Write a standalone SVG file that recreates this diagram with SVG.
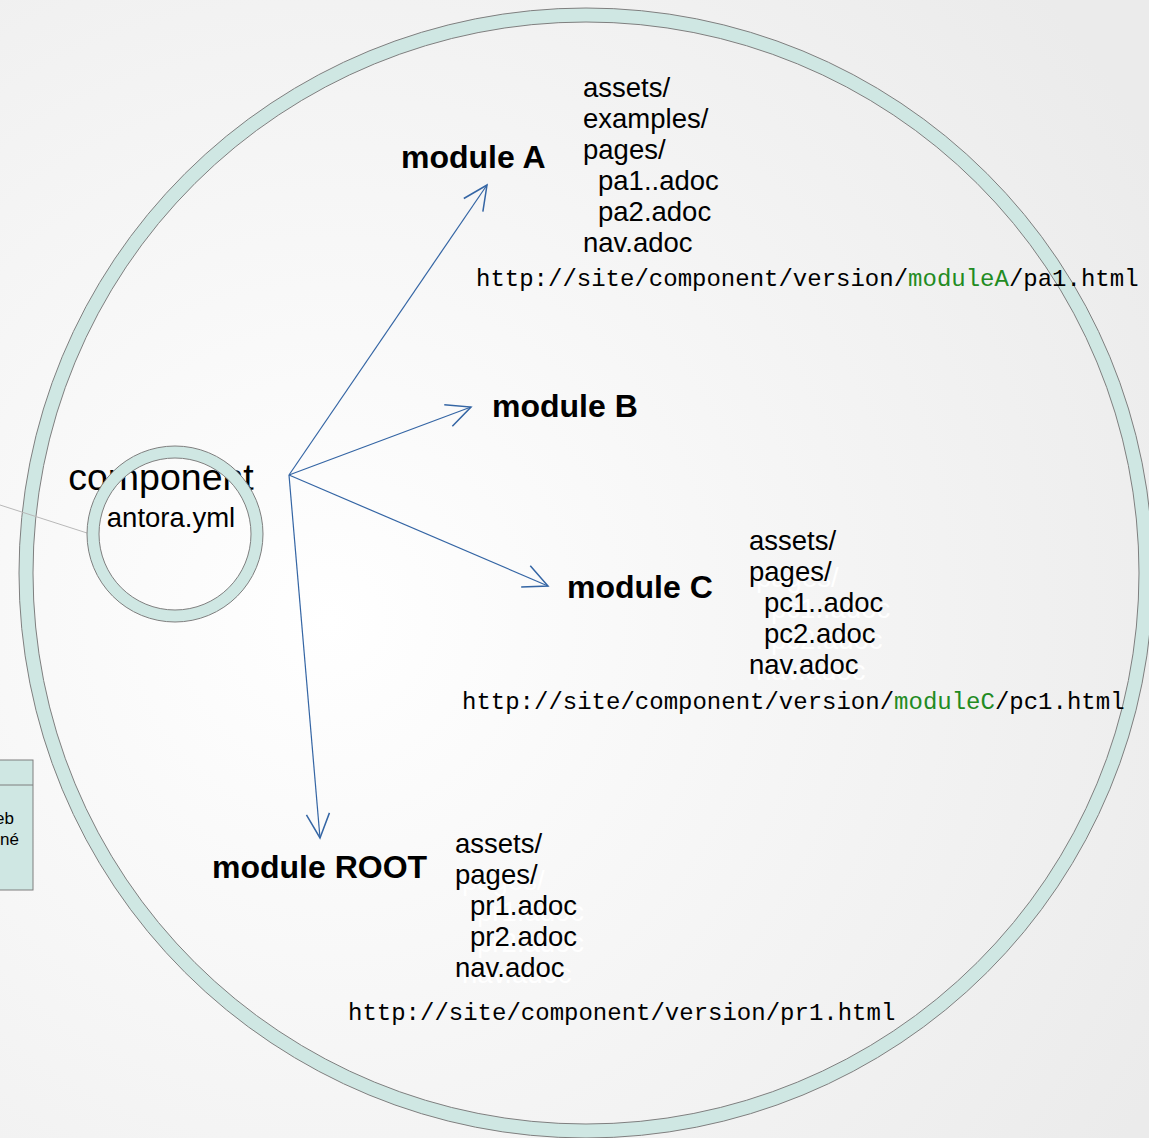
<svg xmlns="http://www.w3.org/2000/svg" width="1149" height="1138" viewBox="0 0 1149 1138">
<defs>
<radialGradient id="bg" cx="330" cy="620" r="950" gradientUnits="userSpaceOnUse">
<stop offset="0" stop-color="#ffffff"/>
<stop offset="1" stop-color="#ebebeb"/>
</radialGradient>
<marker id="arr" markerUnits="userSpaceOnUse" markerWidth="30" markerHeight="30" viewBox="-24 -12 26 24" refX="0" refY="0" orient="auto">
<path d="M-21,-10 L0,0 L-21,10" fill="none" stroke="#3465a4" stroke-width="1.3"/>
</marker>
<style>
.ring{fill:#cfe7e3;stroke:#7f7f7f;stroke-width:1;fill-rule:evenodd}
.t{font-family:"Liberation Sans",Arial,sans-serif;fill:#000}
.lst{font-size:27.5px}
.ghost{font-family:"Liberation Sans",Arial,sans-serif;font-size:27.5px;fill:#ffffff}
.mod{font-size:32px;font-weight:bold}
.url{font-family:"Liberation Mono","Courier New",monospace;font-size:24px;fill:#000}
.g{fill:#228b22}
.conn{stroke:#3465a4;stroke-width:1.2;fill:none;marker-end:url(#arr)}
</style>
</defs>
<rect width="1149" height="1138" fill="url(#bg)"/>

<g id="component-boundary">
<path class="ring" d="M19,573 a567,565 0 1,0 1134,0 a567,565 0 1,0 -1134,0 Z M33,573 a553,551 0 1,0 1106,0 a553,551 0 1,0 -1106,0 Z"/>
</g>

<g id="side-box">
<rect x="-1" y="760" width="34" height="130" fill="#cfe7e3" stroke="#7f7f7f" stroke-width="1"/>
<line x1="-1" y1="785" x2="33" y2="785" stroke="#7f7f7f" stroke-width="1"/>
<text class="t" x="14" y="824" font-size="17" text-anchor="end">eb</text>
<text class="t" x="19" y="845" font-size="17" text-anchor="end">né</text>
</g>

<line x1="0" y1="505" x2="87" y2="533" stroke="#b8b8b8" stroke-width="1"/>

<g id="component">
<text class="t" x="161" y="490" font-size="37.5" text-anchor="middle">component</text>
<path class="ring" d="M87,534 a88,88 0 1,0 176,0 a88,88 0 1,0 -176,0 Z M99,534 a76,76 0 1,0 152,0 a76,76 0 1,0 -152,0 Z"/>
<text class="t" x="171" y="527" font-size="27.5" text-anchor="middle">antora.yml</text>
</g>

<g id="connectors">
<line class="conn" x1="289" y1="475" x2="487" y2="185"/>
<line class="conn" x1="289" y1="475" x2="471" y2="407"/>
<line class="conn" x1="289" y1="475" x2="548" y2="586"/>
<line class="conn" x1="289" y1="475" x2="320" y2="838"/>
</g>

<g id="module-A">
<text class="t mod" x="401" y="168">module A</text>
<text class="t lst" x="583" y="97">assets/</text>
<text class="t lst" x="583" y="128">examples/</text>
<text class="t lst" x="583" y="159">pages/</text>
<text class="t lst" x="598" y="190">pa1..adoc</text>
<text class="t lst" x="598" y="221">pa2.adoc</text>
<text class="t lst" x="583" y="252">nav.adoc</text>
<text class="url" x="476" y="286">http://site/component/version/<tspan class="g">moduleA</tspan>/pa1.html</text>
</g>

<g id="module-B">
<text class="t mod" x="492" y="417">module B</text>
</g>

<g id="module-C">
<text class="t mod" x="567" y="598">module C</text>
<g class="ghost">
<text x="756" y="587">pages/</text>
<text x="771" y="618">pc1..adoc</text>
<text x="771" y="649">pc2.adoc</text>
<text x="756" y="680">nav.adoc</text>
</g>
<text class="t lst" x="749" y="550">assets/</text>
<text class="t lst" x="749" y="581">pages/</text>
<text class="t lst" x="764" y="612">pc1..adoc</text>
<text class="t lst" x="764" y="643">pc2.adoc</text>
<text class="t lst" x="749" y="674">nav.adoc</text>
<text class="url" x="462" y="709">http://site/component/version/<tspan class="g">moduleC</tspan>/pc1.html</text>
</g>

<g id="module-ROOT">
<text class="t mod" x="212" y="878">module ROOT</text>
<g class="ghost">
<text x="462" y="890">pages/</text>
<text x="477" y="921">pr1.adoc</text>
<text x="477" y="952">pr2.adoc</text>
<text x="462" y="983">nav.adoc</text>
</g>
<text class="t lst" x="455" y="853">assets/</text>
<text class="t lst" x="455" y="884">pages/</text>
<text class="t lst" x="470" y="915">pr1.adoc</text>
<text class="t lst" x="470" y="946">pr2.adoc</text>
<text class="t lst" x="455" y="977">nav.adoc</text>
<text class="url" x="348" y="1020">http://site/component/version/pr1.html</text>
</g>
</svg>
